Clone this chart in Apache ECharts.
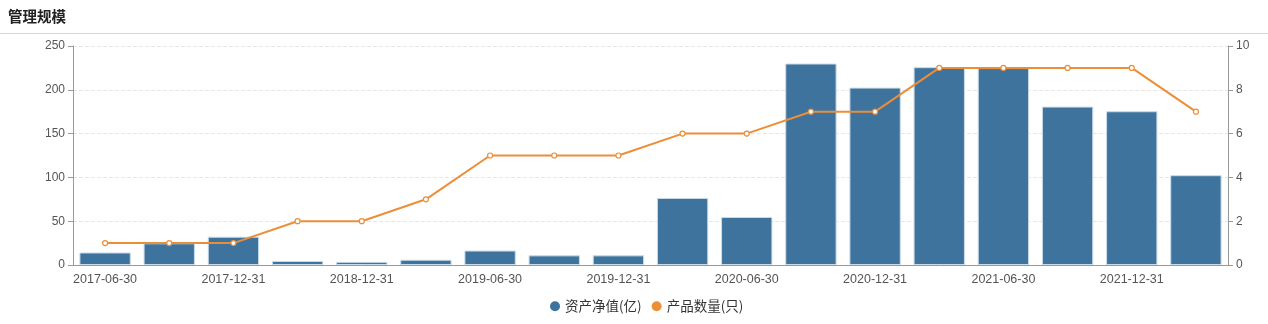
<!DOCTYPE html>
<html><head><meta charset="utf-8">
<script src="https://cdn.jsdelivr.net/npm/echarts@6/dist/echarts.min.js"></script>
<style>html,body{margin:0;padding:0;background:#fff}#c{width:1268px;height:324px}</style>
</head><body><div id="c"></div>
<script>
const categories = ['2017-06-30','2017-09-30','2017-12-31','2018-06-30','2018-12-31','2019-03-31','2019-06-30','2019-09-30','2019-12-31','2020-03-31','2020-06-30','2020-09-30','2020-12-31','2021-03-31','2021-06-30','2021-09-30','2021-12-31','2022-03-31'];
const netAssets = [14.3, 24.8, 32.3, 4.6, 3.6, 6, 16.5, 11, 11, 76.5, 54.8, 230, 202.5, 225.8, 224.8, 180.8, 175.5, 102.5];
const productCount = [1, 1, 1, 2, 2, 3, 5, 5, 5, 6, 6, 7, 7, 9, 9, 9, 9, 7];
const seriesNames = ['资产净值(亿)', '产品数量(只)'];
const titleText = '管理规模';

const barColor = '#3d739c';
const lineColor = '#ec8e38';
const chart = echarts.init(document.getElementById('c'));
const axisColor = '#999';
const labelColor = '#555';
chart.setOption({
  animation: false,
  color: [barColor, lineColor],
  title: { text: titleText, left: 3, top: 4, textStyle: { fontSize: 14.5, fontWeight: 'bold', color: '#222', fontFamily: 'Noto Sans CJK SC' } },
  graphic: [{ type: 'rect', shape: { x: 0, y: 33, width: 1268, height: 1 }, style: { fill: '#d8d8d8' } }],
  legend: { bottom: 6, left: 545, icon: 'circle', itemWidth: 10, itemHeight: 10, itemGap: 10,
    textStyle: { fontSize: 13.5, color: '#333', fontFamily: 'Noto Sans CJK SC' },
    data: [
      { name: seriesNames[0], itemStyle: { color: barColor, borderWidth: 0 } },
      { name: seriesNames[1], itemStyle: { color: lineColor, borderWidth: 0 } }
    ] },
  grid: { left: 73, right: 40, top: 46, bottom: 59 },
  xAxis: { type: 'category', data: categories,
    axisLine: { lineStyle: { color: axisColor } },
    axisTick: { lineStyle: { color: axisColor } },
    axisLabel: { interval: 1, color: labelColor, fontSize: 12.5 } },
  yAxis: [
    { type: 'value', min: 0, max: 250, interval: 50, position: 'left',
      axisLine: { show: true, lineStyle: { color: axisColor } },
      axisTick: { show: true, lineStyle: { color: axisColor } },
      axisLabel: { color: labelColor, fontSize: 12 },
      splitLine: { lineStyle: { type: 'dashed', color: '#e6e6e6' } } },
    { type: 'value', min: 0, max: 10, interval: 2, position: 'right',
      axisLine: { show: true, lineStyle: { color: axisColor } },
      axisTick: { show: true, lineStyle: { color: axisColor } },
      axisLabel: { color: labelColor, fontSize: 12 },
      splitLine: { show: false } }
  ],
  series: [
    { name: seriesNames[0], type: 'bar', data: netAssets, barCategoryGap: '20%',
      itemStyle: { color: barColor, borderColor: '#c9dbe8', borderWidth: 1 } },
    { name: seriesNames[1], type: 'line', yAxisIndex: 1, data: productCount,
      symbol: 'circle', symbolSize: 5,
      lineStyle: { width: 2, color: lineColor },
      itemStyle: { color: '#fff', borderColor: lineColor, borderWidth: 1.2 },
      emphasis: { disabled: true } }
  ]
});
</script></body></html>
